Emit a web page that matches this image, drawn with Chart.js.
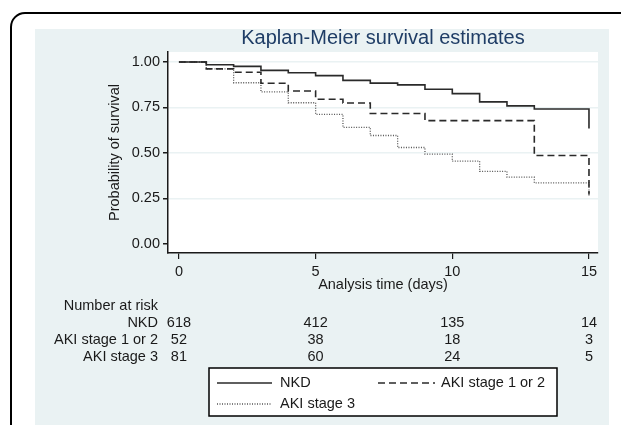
<!DOCTYPE html>
<html>
<head>
<meta charset="utf-8">
<title>Kaplan-Meier survival estimates</title>
<script src="https://cdn.jsdelivr.net/npm/chart.js@4.4.1/dist/chart.umd.min.js"></script>
<style>
  html, body { margin: 0; padding: 0; background: #fff; }
  #wrap { width: 621px; height: 425px; position: relative; }
</style>
</head>
<body>
<div id="wrap"><canvas id="kmChart" width="621" height="425"></canvas></div>
<script>
// survival, value at the end of each day
const days   = [0, 1, 2, 3, 4, 5, 6, 7, 8, 9, 10, 11, 12, 13, 14, 15];
const nkd    = [1.000, 0.985, 0.976, 0.954, 0.941, 0.925, 0.899, 0.884, 0.874, 0.850, 0.826, 0.781, 0.759, 0.742, 0.742, 0.634];
const aki12  = [1.000, 0.962, 0.944, 0.883, 0.841, 0.795, 0.775, 0.717, 0.717, 0.678, 0.678, 0.678, 0.678, 0.486, 0.486, 0.272];
const aki3   = [1.000, 0.962, 0.886, 0.836, 0.776, 0.712, 0.641, 0.596, 0.530, 0.494, 0.455, 0.399, 0.367, 0.336, 0.336, 0.265];

const xTicks = [0, 5, 10, 15];
const yTicks = [0, 0.25, 0.5, 0.75, 1];

const groups   = ['NKD', 'AKI stage 1 or 2', 'AKI stage 3'];
const riskNkd  = [618, 412, 135, 14];
const riskAki12 = [52, 38, 18, 3];
const riskAki3 = [81, 60, 24, 5];

const FONT = "'Liberation Sans', Arial, sans-serif";
const INK = '#1a1a1a';
const PANEL = '#eaf2f3';

function points(vals) {
    return days.map((d, i) => ({ x: d, y: vals[i] }));
}

// background panel, outer rounded frame and white plot region
const backdrop = {
    id: 'backdrop',
    beforeDraw(chart) {
        const c = chart.ctx;
        const a = chart.chartArea;
        c.save();
        c.fillStyle = '#fff';
        c.fillRect(0, 0, chart.width, chart.height);
        c.fillStyle = PANEL;
        c.fillRect(35, 29, 574, 400);
        c.strokeStyle = '#000';
        c.lineWidth = 2;
        c.beginPath();
        c.moveTo(11, 440);
        c.lineTo(11, 27);
        c.arcTo(11, 13, 25, 13, 14);
        c.lineTo(640, 13);
        c.stroke();
        c.fillStyle = '#fff';
        c.fillRect(a.left, a.top, a.right - a.left, a.bottom - a.top);
        c.restore();
    }
};

// number-at-risk table and boxed legend
const extras = {
    id: 'extras',
    afterDraw(chart) {
        const c = chart.ctx;
        const xs = chart.scales.x;
        c.save();
        c.font = '14.5px ' + FONT;
        c.fillStyle = INK;
        c.textBaseline = 'middle';
        c.textAlign = 'right';
        c.fillText('Number at risk', 158, 306);
        const rows = [riskNkd, riskAki12, riskAki3];
        const rowY = [322.5, 339.5, 356.5];
        rows.forEach((r, k) => {
            c.textAlign = 'right';
            c.fillText(groups[k], 158, rowY[k]);
            c.textAlign = 'center';
            r.forEach((n, i) => c.fillText(String(n), xs.getPixelForValue(xTicks[i]), rowY[k]));
        });

        // legend box
        c.fillStyle = '#fff';
        c.fillRect(209, 368, 348, 48);
        c.strokeStyle = '#000';
        c.lineWidth = 1.5;
        c.strokeRect(209, 368, 348, 48);

        const items = [
            { ds: 0, x1: 217, x2: 272, tx: 280, y: 383 },
            { ds: 1, x1: 378, x2: 435, tx: 441, y: 383 },
            { ds: 2, x1: 217, x2: 272, tx: 280, y: 404 }
        ];
        items.forEach(it => {
            const d = chart.data.datasets[it.ds];
            c.strokeStyle = d.borderColor;
            c.lineWidth = d.borderWidth;
            c.setLineDash(d.borderDash || []);
            c.beginPath();
            c.moveTo(it.x1, it.y);
            c.lineTo(it.x2, it.y);
            c.stroke();
            c.setLineDash([]);
            c.fillStyle = INK;
            c.textAlign = 'left';
            c.fillText(d.label, it.tx, it.y);
        });
        c.restore();
    }
};

new Chart(document.getElementById('kmChart'), {
    type: 'line',
    data: {
        datasets: [
            { label: groups[0], data: points(nkd), borderColor: '#2a2a2a', borderWidth: 1.6 },
            { label: groups[1], data: points(aki12), borderColor: '#2a2a2a', borderWidth: 1.6, borderDash: [7, 4] },
            { label: groups[2], data: points(aki3), borderColor: '#555', borderWidth: 1.3, borderDash: [1, 1.5] }
        ]
    },
    options: {
        responsive: false,
        animation: false,
        devicePixelRatio: 1,
        elements: {
            point: { radius: 0 },
            line: { stepped: 'before', tension: 0 }
        },
        layout: { padding: { left: 0, right: 23, top: 0, bottom: 122 } },
        plugins: {
            legend: { display: false },
            tooltip: { enabled: false },
            title: {
                display: true,
                fullSize: false,
                text: 'Kaplan-Meier survival estimates',
                color: '#1f3d66',
                font: { family: FONT, size: 20, weight: 'normal' },
                padding: { top: 26, bottom: 2 }
            }
        },
        scales: {
            x: {
                type: 'linear',
                min: -0.4,
                max: 15.33,
                afterBuildTicks: s => { s.ticks = xTicks.map(v => ({ value: v })); },
                afterFit: s => { s.height = 50; },
                border: { color: INK, width: 1.5 },
                grid: { drawOnChartArea: false, tickLength: 6, tickColor: INK, lineWidth: 1.2 },
                ticks: { color: INK, padding: 4, maxRotation: 0, font: { family: FONT, size: 14.5 } },
                title: {
                    display: true,
                    text: 'Analysis time (days)',
                    color: INK,
                    font: { family: FONT, size: 14.5 },
                    padding: { top: 0, bottom: 9 }
                }
            },
            y: {
                min: -0.05,
                max: 1.055,
                afterBuildTicks: s => { s.ticks = yTicks.map(v => ({ value: v })); },
                afterFit: s => { s.width = 168; },
                border: { color: INK, width: 1.5 },
                grid: {
                    color: c => (c.tick && c.tick.value === 0 ? 'rgba(0,0,0,0)' : PANEL),
                    lineWidth: 1.5,
                    tickLength: 5,
                    tickColor: INK
                },
                ticks: {
                    color: INK,
                    padding: 3,
                    font: { family: FONT, size: 14.5 },
                    callback: v => Number(v).toFixed(2)
                },
                title: {
                    display: true,
                    text: 'Probability of survival',
                    color: INK,
                    font: { family: FONT, size: 14.5 },
                    padding: { top: 106, bottom: 0 }
                }
            }
        }
    },
    plugins: [backdrop, extras]
});
</script>
</body>
</html>
